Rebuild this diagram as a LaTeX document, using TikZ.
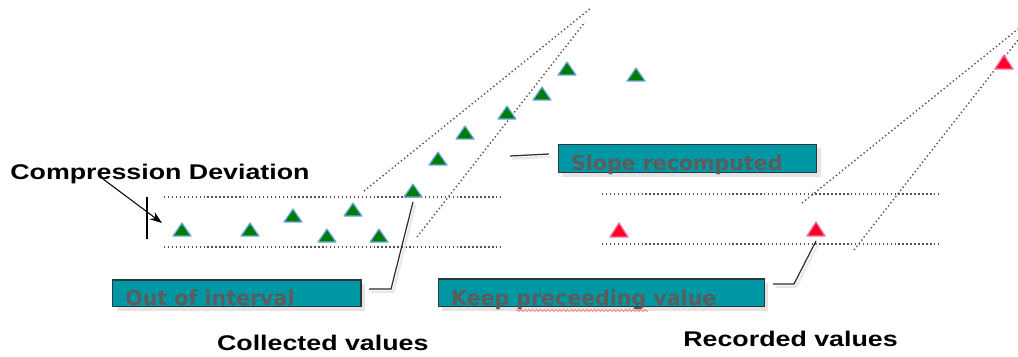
\documentclass[tikz,border=0pt]{standalone}
\usepackage{fontspec}
\usepackage{graphicx}
\setmainfont{Liberation Sans}
\newfontfamily\boxfont{DejaVu Sans}
\usetikzlibrary{fit,shadows,calc,arrows.meta,decorations.pathmorphing}

\definecolor{tealbox}{RGB}{0,151,164}
\definecolor{boxedge}{RGB}{40,58,60}
\definecolor{boxtext}{RGB}{92,92,92}
\definecolor{ptgreen}{RGB}{0,125,0}
\definecolor{ptgreenedge}{RGB}{110,165,235}
\definecolor{ptred}{RGB}{255,0,45}
\definecolor{ptrededge}{RGB}{255,110,150}
\definecolor{dotgray}{RGB}{85,85,85}
\definecolor{linegray}{RGB}{45,45,45}
\definecolor{shadegray}{RGB}{228,228,228}

\newcommand{\lbl}[1]{\fontsize{12.1}{14}\selectfont\bfseries\scalebox{1.26}[1]{#1}}
\newcommand{\btxt}[1]{\boxfont\fontsize{11.7}{14}\selectfont\bfseries #1}

\begin{document}
\begin{tikzpicture}[x=0.02cm,y=-0.02cm,
  band/.style={draw=dotgray, line width=0.8pt, dash pattern=on 0.8pt off 1.45pt},
  msgbox/.style={draw=boxedge, fill=tealbox, line width=0.8pt, inner sep=0pt,
    drop shadow={shadow xshift=2.2pt, shadow yshift=-2.2pt, fill=shadegray, opacity=1}},
  boxlabel/.style={anchor=base west, inner sep=0pt, text=boxtext},
  biglabel/.style={anchor=base west, inner sep=0pt, text=black},
  conn/.style={draw=linegray, line width=0.7pt,
    preaction={draw=black!9, line width=1.3pt, transform canvas={shift={(1.3pt,-1.5pt)}}}},
  gtri/.pic={\path[fill=ptgreen, draw=ptgreenedge, line width=0.7pt, line join=round]
      (-9,0) -- (9,0) -- (0,-13) -- cycle; \coordinate (-base) at (0,0);},
  rtri/.pic={\path[fill=ptred, draw=ptrededge, line width=0.7pt, line join=round]
      (-9,0) -- (9,0) -- (0,-14) -- cycle; \coordinate (-base) at (0,0);},
]
\useasboundingbox (0,0) rectangle (1018,356);

% tolerance bands, collected side
\draw[band] (164,197) -- (502,197);
\draw[band] (164,247) -- (502,247);
\draw[band] (364,191) -- (591,8);
\draw[band] (417,237) -- (585,22);

% tolerance bands, recorded side
\draw[band] (602,194) -- (939,194);
\draw[band] (602,244) -- (939,244);
\draw[band] (802,203) -- (1018,29);
\draw[band] (854,250) -- (1018,40);

% compression deviation marker
\node[biglabel] (cdlabel) at (10,179) {\lbl{Compression Deviation}};
\coordinate (cdstart) at (103,179);
\coordinate (cdend) at (162,223);
\draw[-{Stealth[length=7pt,width=5pt]}, line width=0.6pt] (cdstart) -- (cdend);
\coordinate (bartop) at (147,197);
\coordinate (barbot) at (147,239);
\draw[line width=0.8pt] (bartop) -- (barbot);

% collected values
\pic (g1) at (182,236) {gtri};
\pic (g2) at (250,236) {gtri};
\pic (g3) at (293,222) {gtri};
\pic (g4) at (327,242) {gtri};
\pic (g5) at (353,216) {gtri};
\pic (g6) at (379,242) {gtri};
\pic (g7) at (413,197) {gtri};
\pic (g8) at (438,165) {gtri};
\pic (g9) at (465,139) {gtri};
\pic (g10) at (507,119) {gtri};
\pic (g11) at (542,100) {gtri};
\pic (g12) at (567,75) {gtri};
\pic (g13) at (636,81) {gtri};

% recorded values
\pic (r1) at (619,237) {rtri};
\pic (r2) at (816,236) {rtri};
\pic (r3) at (1004,69) {rtri};

% message boxes
\node[msgbox, fit={(112.7,280) (361,306.7)}] (oi) {};
\node[boxlabel] (oitext) at (125,305) {\btxt{Out of interval}};

\node[msgbox, fit={(558.3,144.3) (816.7,172.7)}] (sr) {};
\node[boxlabel] (srtext) at (570.7,170) {\btxt{Slope recomputed}};

\node[msgbox, fit={(438.3,279) (764.3,306.7)}] (kp) {};
\node[boxlabel] (kptext) at (450.7,305) {\btxt{Keep preceeding value}};
\draw[red!55, line width=0.4pt, decorate,
  decoration={snake, amplitude=0.6pt, segment length=2.2pt}] (516,310.5) -- (648,310.5);

% callouts
\coordinate (oiA) at (369,289);
\coordinate (oiB) at (391,289);
\draw[conn] (oiA) -- (oiB) -- ($(g7-base)+(0,5)$);

\coordinate (srA) at (510,156);
\coordinate (srB) at (549,154);
\draw[conn] (srA) -- (srB);

\coordinate (kpA) at (773,284);
\coordinate (kpB) at (794,284);
\draw[conn] (kpA) -- (kpB) -- ($(r2-base)+(0,5)$);

% captions
\node[biglabel] (coll) at (216.7,350) {\lbl{Collected values}};
\node[biglabel] (rec) at (683,346.7) {\lbl{Recorded values}};
\end{tikzpicture}
\end{document}
